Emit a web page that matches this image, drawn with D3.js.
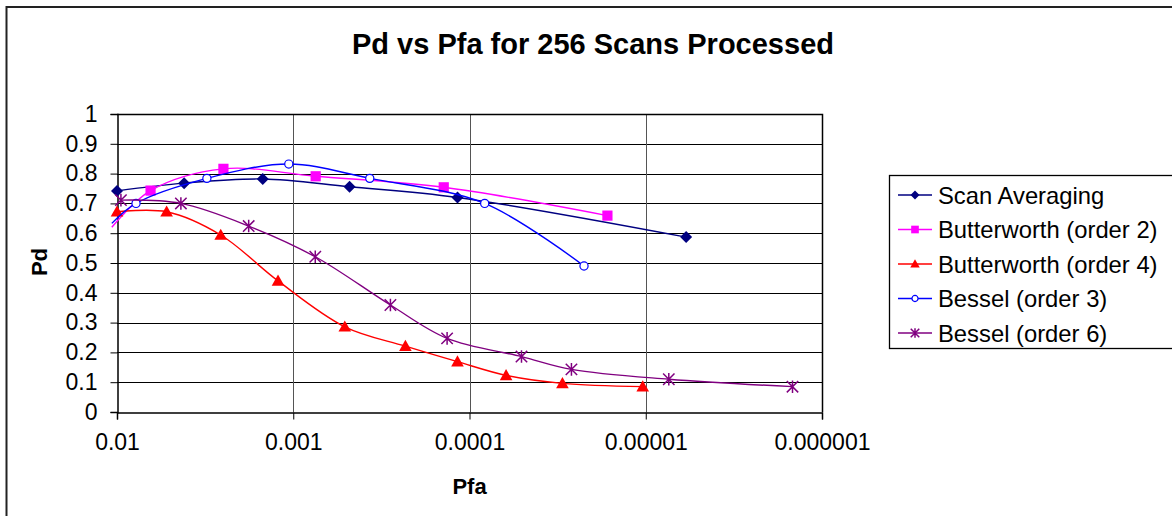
<!DOCTYPE html>
<html>
<head>
<meta charset="utf-8">
<script src="https://cdn.jsdelivr.net/npm/d3@7"></script>
<style>
  html, body { margin: 0; padding: 0; background: #fff; }
  svg { display: block; font-family: "Liberation Sans", Arial, sans-serif; }
</style>
</head>
<body>
<svg id="chart" width="1172" height="516"></svg>
<script>
// Detection probability versus false-alarm probability, 256 scans
const seriesNames = [
  "Scan Averaging",
  "Butterworth (order 2)",
  "Butterworth (order 4)",
  "Bessel (order 3)",
  "Bessel (order 6)"
];
const seriesColors = ["#000080", "#ff00ff", "#ff0000", "#0000ff", "#800080"];
const seriesMarkers = ["diamond", "square", "triangle", "circle", "star"];

const scanAvgPfa = [0.01, 0.00416, 0.00149, 0.000479, 0.000117, 0.0000059];
const scanAvgPd  = [0.742, 0.768, 0.782, 0.756, 0.72, 0.587];

const butter2Pfa = [0.0107, 0.00645, 0.00249, 0.000746, 0.00014, 0.0000165];
const butter2Pd  = [0.62, 0.743, 0.816, 0.791, 0.754, 0.659];

const butter4Pfa = [0.01, 0.00523, 0.00258, 0.00122, 0.00051, 0.000231, 0.000117, 0.000062, 0.0000297, 0.0000104];
const butter4Pd  = [0.672, 0.672, 0.594, 0.44, 0.286, 0.221, 0.169, 0.123, 0.096, 0.085];

const bessel3Pfa = [0.0107, 0.0078, 0.00309, 0.00106, 0.000368, 0.000082, 0.0000224];
const bessel3Pd  = [0.633, 0.70, 0.784, 0.832, 0.784, 0.70, 0.49];

const bessel6Pfa = [0.0095, 0.00434, 0.00179, 0.00075, 0.000281, 0.000134, 0.0000507, 0.0000264, 0.0000074, 0.00000147];
const bessel6Pd  = [0.711, 0.70, 0.624, 0.521, 0.359, 0.247, 0.186, 0.143, 0.11, 0.085];

const xTicks = [0.01, 0.001, 0.0001, 0.00001, 0.000001];
const xTickLabels = ["0.01", "0.001", "0.0001", "0.00001", "0.000001"];
const yTicks = [0, 0.1, 0.2, 0.3, 0.4, 0.5, 0.6, 0.7, 0.8, 0.9, 1];

const seriesPfa = [scanAvgPfa, butter2Pfa, butter4Pfa, bessel3Pfa, bessel6Pfa];
const seriesPd = [scanAvgPd, butter2Pd, butter4Pd, bessel3Pd, bessel6Pd];

const svg = d3.select("#chart");
const plot = { left: 117, right: 822, top: 114, bottom: 412 };

// Outer chart frame (only left and top edges fall inside the canvas)
svg.append("path")
  .attr("d", "M6.5,520 V7 H1180")
  .attr("fill", "none").attr("stroke", "#222").attr("stroke-width", 2);

const x = d3.scaleLog().domain([0.01, 0.000001]).range([plot.left, plot.right]);
const y = d3.scaleLinear().domain([0, 1]).range([plot.bottom, plot.top]);

// Horizontal gridlines
svg.append("g").selectAll("line").data(yTicks.slice(1)).join("line")
  .attr("x1", plot.left).attr("x2", plot.right)
  .attr("y1", d => Math.round(y(d)) + 0.5).attr("y2", d => Math.round(y(d)) + 0.5)
  .attr("stroke", "#000").attr("stroke-width", 1);

// Vertical gridlines
svg.append("g").selectAll("line").data(xTicks.slice(1)).join("line")
  .attr("x1", d => Math.round(x(d)) + 0.5).attr("x2", d => Math.round(x(d)) + 0.5)
  .attr("y1", plot.top).attr("y2", plot.bottom)
  .attr("stroke", "#555").attr("stroke-width", 1);

// Y axis
const yAxis = svg.append("g")
  .attr("transform", `translate(${plot.left + 0.5},0)`)
  .call(d3.axisLeft(y).tickValues(yTicks).tickSize(7).tickPadding(13).tickFormat(d3.format("")));
yAxis.select(".domain").attr("stroke", "#000").attr("stroke-width", 1.5);
yAxis.selectAll(".tick line").attr("stroke", "#000");
yAxis.selectAll(".tick text")
  .attr("font-size", 23).attr("fill", "#000")
  .attr("font-family", "'Liberation Sans', Arial, sans-serif");

// X axis
const xAxis = svg.append("g")
  .attr("transform", `translate(0,${plot.bottom + 0.5})`)
  .call(d3.axisBottom(x).tickValues(xTicks).tickSize(7).tickPadding(14)
    .tickFormat((d, i) => xTickLabels[i]));
xAxis.select(".domain").attr("stroke", "#000").attr("stroke-width", 1.5);
xAxis.selectAll(".tick line").attr("stroke", "#000");
xAxis.selectAll(".tick text")
  .attr("font-size", 23).attr("fill", "#000")
  .attr("font-family", "'Liberation Sans', Arial, sans-serif");

// Plot area top and right edges
svg.append("path")
  .attr("d", `M${plot.left},${plot.top + 0.5} H${plot.right + 0.5} V${plot.bottom}`)
  .attr("fill", "none").attr("stroke", "#000").attr("stroke-width", 1.5);

// Titles
svg.append("text")
  .attr("x", 593).attr("y", 54)
  .attr("text-anchor", "middle")
  .attr("font-size", 29).attr("font-weight", "bold")
  .text("Pd vs Pfa for 256 Scans Processed");

svg.append("text")
  .attr("x", 469.5).attr("y", 494)
  .attr("text-anchor", "middle")
  .attr("font-size", 22).attr("font-weight", "bold")
  .text("Pfa");

svg.append("text")
  .attr("transform", "translate(47,262) rotate(-90)")
  .attr("text-anchor", "middle")
  .attr("font-size", 22).attr("font-weight", "bold")
  .text("Pd");

// Marker shapes
function marker(sel, kind, color, size) {
  const s = size;
  if (kind === "diamond") {
    sel.append("path").attr("d", `M0,${-s} L${s},0 L0,${s} L${-s},0 Z`).attr("fill", color);
  } else if (kind === "square") {
    sel.append("rect").attr("x", -s * 0.85).attr("y", -s * 0.85)
      .attr("width", s * 1.7).attr("height", s * 1.7).attr("fill", color);
  } else if (kind === "triangle") {
    sel.append("path").attr("d", `M0,${-s * 1.05} L${s * 1.05},${s * 0.8} L${-s * 1.05},${s * 0.8} Z`).attr("fill", color);
  } else if (kind === "circle") {
    sel.append("circle").attr("r", s * 0.68).attr("fill", "#fff")
      .attr("stroke", color).attr("stroke-width", 1.2);
  } else if (kind === "star") {
    const a = s * 0.95;
    sel.append("path")
      .attr("d", `M${-a},${-a} L${a},${a} M${-a},${a} L${a},${-a} M0,${-a * 1.1} V${a * 1.1}`)
      .attr("stroke", color).attr("stroke-width", 1.5).attr("fill", "none");
  }
}

const line = d3.line()
  .x(d => x(d[0]))
  .y(d => y(d[1]))
  .curve(d3.curveCatmullRom.alpha(0.5));

seriesNames.forEach((name, i) => {
  const pts = seriesPfa[i].map((p, j) => [p, seriesPd[i][j]]);
  const g = svg.append("g");
  g.append("path")
    .datum(pts)
    .attr("d", line)
    .attr("fill", "none")
    .attr("stroke", seriesColors[i])
    .attr("stroke-width", 1.4);
  // markers only for points inside the axis range
  pts.filter(d => d[0] <= 0.01).forEach(d => {
    const m = g.append("g").attr("transform", `translate(${x(d[0])},${y(d[1])})`);
    marker(m, seriesMarkers[i], seriesColors[i], 6);
  });
});

// Legend
const legend = svg.append("g");
legend.append("rect")
  .attr("x", 889.5).attr("y", 175.5)
  .attr("width", 300).attr("height", 173)
  .attr("fill", "#fff").attr("stroke", "#000").attr("stroke-width", 1.3);

seriesNames.forEach((name, i) => {
  const cy = 195 + i * 34.5;
  const row = legend.append("g");
  row.append("line")
    .attr("x1", 898).attr("x2", 932).attr("y1", cy).attr("y2", cy)
    .attr("stroke", seriesColors[i]).attr("stroke-width", 1.4);
  const m = row.append("g").attr("transform", `translate(915,${cy})`);
  marker(m, seriesMarkers[i], seriesColors[i], 4.5);
  row.append("text")
    .attr("x", 938).attr("y", cy + 8.5)
    .attr("font-size", 23.8)
    .text(name);
});
</script>
</body>
</html>
